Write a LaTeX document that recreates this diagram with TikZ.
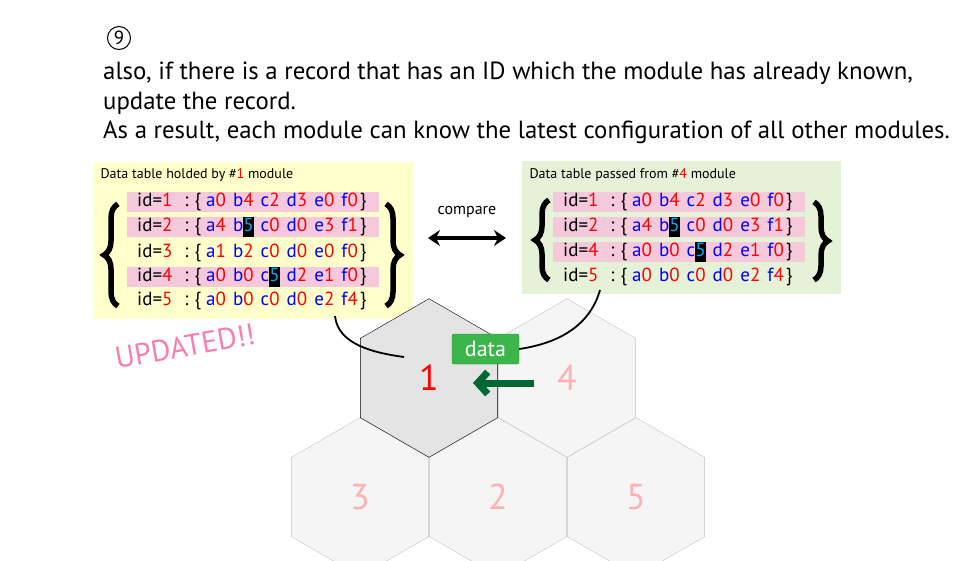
\documentclass[tikz,border=0pt]{standalone}
\usepackage{fontspec}
\setmainfont{PT Sans}
\usetikzlibrary{positioning, shapes.geometric, arrows.meta, decorations.pathreplacing}

\definecolor{tabyellow}{HTML}{FFFFCC}
\definecolor{tabgreen}{HTML}{E6F2D8}
\definecolor{rowpink}{HTML}{F5C8DC}
\definecolor{hexgray}{HTML}{F5F5F5}
\definecolor{hexone}{HTML}{E4E4E4}
\definecolor{hexline}{HTML}{C4C4C4}
\definecolor{hexpink}{HTML}{FFB0B0}
\definecolor{datagreen}{HTML}{3CB54A}
\definecolor{databorder}{HTML}{2A8F3A}
\definecolor{pushgreen}{HTML}{006633}
\definecolor{updpink}{HTML}{F77FB0}

\newcommand\kv[2]{\textcolor{blue}{#1}\textcolor{red}{#2}\hspace{2pt}}
\newcommand\hl[1]{{\setlength\fboxsep{0pt}\colorbox{black}{\strut\textcolor{cyan}{#1}}}}
\newcommand\rec[7]{\makebox[232pt][l]{id=\textcolor{red}{#1}\hspace{12pt}:\hspace{6pt}\{\hspace{5pt}\kv{a}{#2} \kv{b}{#3} \kv{c}{#4} \kv{d}{#5} \kv{e}{#6} \kv{f}{#7}\}}}

\begin{document}
\begin{tikzpicture}[x=1pt, y=-1pt,
        row/.style={anchor=west, inner xsep=10pt, inner ysep=0pt,
                    minimum height=20pt, font=\fontsize{19}{20}\selectfont},
        hirow/.style={row, fill=rowpink},
        hex/.style={regular polygon, regular polygon sides=6, shape border rotate=30,
                    minimum size=158.6pt, inner sep=0pt, outer sep=0pt,
                    draw=hexline, fill=hexgray, text=hexpink,
                    font=\fontsize{36}{40}\selectfont},
        bigbrace/.style={decorate, decoration={brace, amplitude=14pt}, line width=5.5pt},
        title/.style={anchor=west, font=\fontsize{14}{16}\selectfont},
        body/.style={anchor=base west, inner sep=0pt, font=\fontsize{24.8}{28}\selectfont}]
      \clip (0,0) rectangle (960,560);
      \useasboundingbox (0,0) rectangle (960,560);

      % text on top
      \node[circle, draw, line width=1pt, minimum size=23pt, inner sep=0pt,
            font=\fontsize{19}{20}\selectfont] (num) at (119,38) {9};
      \node[body] (l1) at (103,79)  {also, if there is a record that has an ID which the module has already known,};
      \node[body] (l2) at (103,109) {update the record.};
      \node[body] (l3) at (103,138) {As a result, each module can know the latest configuration of all other modules.};

      % table of module 1
      \fill[tabyellow] (94,162) rectangle (413,319);
      \node[title] (ytitle) at (97,175) {Data table holded by \#\textcolor{red}{1} module};
      \node[hirow] (y1) at (127,202) {\rec{1}{0}{4}{2}{3}{0}{0}};
      \node[hirow] (y2) at (127,227) {\rec{2}{4}{\hl{5}}{0}{0}{3}{1}};
      \node[row]   (y3) at (127,253) {\rec{3}{1}{2}{0}{0}{0}{0}};
      \node[hirow] (y4) at (127,277) {\rec{4}{0}{0}{\hl{5}}{2}{1}{0}};
      \node[row]   (y5) at (127,301) {\rec{5}{0}{0}{0}{0}{2}{4}};
      \draw[bigbrace] (118,306) -- (118,204);
      \draw[bigbrace] (386,204) -- (386,306);

      % table of module 4
      \fill[tabgreen] (522,161) rectangle (841,294);
      \node[title] (gtitle) at (526,175) {Data table passed from \#\textcolor{red}{4} module};
      \node[hirow] (g1) at (553,202) {\rec{1}{0}{4}{2}{3}{0}{0}};
      \node[hirow] (g2) at (553,227) {\rec{2}{4}{\hl{5}}{0}{0}{3}{1}};
      \node[hirow] (g4) at (553,252) {\rec{4}{0}{0}{\hl{5}}{2}{1}{0}};
      \node[row]   (g5) at (553,277) {\rec{5}{0}{0}{0}{0}{2}{4}};
      \draw[bigbrace] (549,280) -- (549,200);
      \draw[bigbrace] (814,202) -- (814,280);

      \node[font=\fontsize{16}{18}\selectfont] (cmp) at (467,212) {compare};
      \coordinate (cmpL) at (428,238);
      \coordinate (cmpR) at (506,238);
      \draw[line width=3.5pt, {Stealth[length=12pt,width=16pt]}-{Stealth[length=12pt,width=16pt]}] (cmpL) -- (cmpR);

      \node[text=updpink, rotate=10, font=\fontsize{30}{32}\selectfont] (upd) at (185,346) {UPDATED!!};

      % modules
      \node[hex] (h4) at (567,378) {4};
      \node[hex] (h3) at (360,497) {3};
      \node[hex] (h2) at (498,497) {2};
      \node[hex] (h5) at (636,497) {5};
      \node[hex, draw=black, fill=hexone, text=red] (h1) at (429,378) {1};

      \node[fill=datagreen, draw=databorder, rounded corners=2pt, text=white,
            minimum width=67pt, minimum height=30pt, inner sep=0pt,
            font=\fontsize{22}{24}\selectfont] (data) at (485.5,349) {data};
      \coordinate (pushS) at (534,383);
      \coordinate (pushE) at (473,383);
      \draw[pushgreen, line width=7pt, -{Straight Barb[length=10pt,width=22pt]}] (pushS) -- (pushE);

      \coordinate (cutA) at (335,316);
      \coordinate (inA) at (404,357);
      \coordinate (cutB) at (600,290);
      \draw[line width=1.8pt] (cutA) .. controls (338,345) and (375,353) .. (inA);
      \draw[line width=1.8pt] (cutB) .. controls (590,325) and (560,343) .. (data.east);
    \end{tikzpicture}
\end{document}
